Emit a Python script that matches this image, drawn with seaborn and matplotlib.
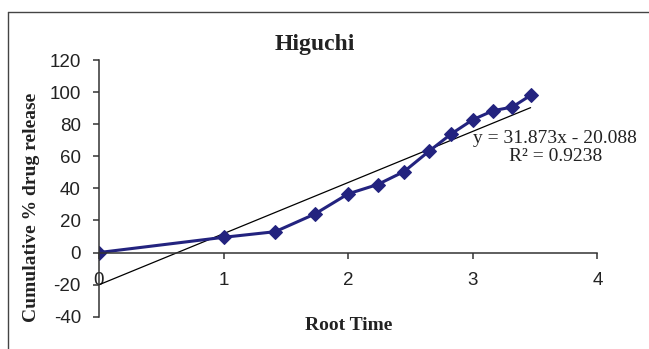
import numpy as np
import pandas as pd
import matplotlib
matplotlib.use("Agg")
import matplotlib.pyplot as plt
from matplotlib.lines import Line2D
import seaborn as sns

# Data
root_time = [0, 1.0, 1.414, 1.732, 2.0, 2.236, 2.449, 2.646, 2.828, 3.0, 3.162, 3.317, 3.464]
cum_release = [0, 9.5, 13.0, 24.0, 36.6, 42.4, 50.5, 63.0, 74.0, 82.8, 88.4, 90.7, 98.0]
slope, intercept, r2 = 31.873, -20.088, 0.9238
x_ticks = [0, 1, 2, 3, 4]
y_ticks = [-40, -20, 0, 20, 40, 60, 80, 100, 120]
title = "Higuchi"
x_label = "Root Time"
y_label = "Cumulative % drug release"

sns.set_theme(style="white")
plt.rcParams["font.family"] = ["Liberation Sans", "DejaVu Sans"]

df = pd.DataFrame({"x": root_time, "y": cum_release})
trend_x = [0, root_time[-1]]
trend_df = pd.DataFrame({"x": trend_x, "y": [slope * v + intercept for v in trend_x]})

fig = plt.figure(figsize=(6.49, 3.49), dpi=100)
ax = fig.add_axes([0.1525, 0.0925, 0.768, 0.7355])

navy = "#23237f"
sns.lineplot(data=trend_df, x="x", y="y", ax=ax, color="black", linewidth=0.9, sort=False)
sns.lineplot(data=df, x="x", y="y", ax=ax, color=navy, linewidth=2.2, marker="D",
             markersize=7, markeredgecolor=navy, markerfacecolor=navy, sort=False)

ax.set_xlim(0, 4)
ax.set_ylim(-40, 120)
ax.set_xticks(x_ticks)
ax.set_yticks(y_ticks)
ax.set_xticklabels([str(t) for t in x_ticks])
ax.set_yticklabels([str(t) for t in y_ticks])

for s in ["top", "right"]:
    ax.spines[s].set_visible(False)
ax.spines["bottom"].set_position(("data", 0))
for s in ["left", "bottom"]:
    ax.spines[s].set_color("#333333")
    ax.spines[s].set_linewidth(1.1)

ax.tick_params(axis="both", which="major", direction="out", length=4, width=1.1,
               color="#333333", labelsize=13.5, labelcolor="#222222")
ax.tick_params(axis="y", pad=9)
ax.tick_params(axis="x", pad=10)
ax.xaxis.set_ticks_position("bottom")
ax.yaxis.set_ticks_position("left")

serif = ["Liberation Serif", "DejaVu Serif"]
ax.set_xlabel(x_label, fontsize=14, fontweight="bold", family=serif, color="#222222")
ax.set_ylabel(y_label, fontsize=14, fontweight="bold", family=serif, color="#222222")
ax.xaxis.set_label_coords(0.5, -0.035)
ax.xaxis.label.set_va("center")
ax.yaxis.set_label_coords(-0.1355, 0.425)
ax.yaxis.label.set_va("center")

ax.set_title(title, x=0.434, y=1.062, va="center", pad=0, fontsize=17,
             fontweight="bold", family=serif, color="#222222")

ax.text(3.663, 65.6, f"y = {slope}x - {abs(intercept)}\nR² = {r2}", ha="center", va="center",
        multialignment="center", fontsize=14, family=serif, color="#222222", linespacing=1.05)

ax.grid(False)

# outer frame lines (left and top)
fig.add_artist(Line2D([8 / 649, 8 / 649], [0, 1 - 12 / 349], transform=fig.transFigure,
                      color="#444444", linewidth=1.0))
fig.add_artist(Line2D([8 / 649, 1], [1 - 12 / 349, 1 - 12 / 349], transform=fig.transFigure,
                      color="#444444", linewidth=1.0))

fig.savefig("out.png", dpi=100, facecolor="white")
